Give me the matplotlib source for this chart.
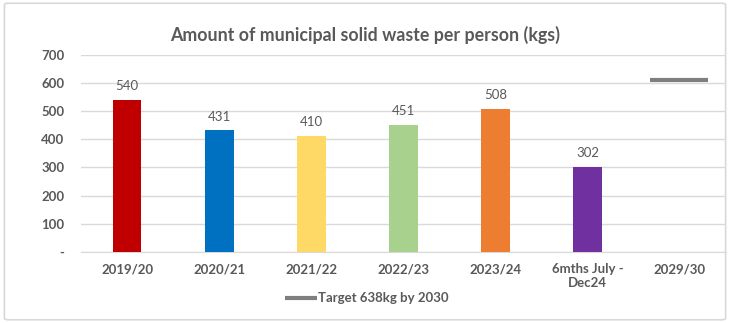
import matplotlib.pyplot as plt
from matplotlib.patches import FancyBboxPatch

categories = ['2019/20', '2020/21', '2021/22', '2022/23', '2023/24',
              '6mths July -\nDec24', '2029/30']
waste = [540, 431, 410, 451, 508, 302]
bar_colors = ['#C00000', '#0070C0', '#FFD966', '#A9D18E', '#ED7D31', '#7030A0']
target = 610
target_label = 'Target 638kg by 2030'
yticks = [0, 100, 200, 300, 400, 500, 600, 700]
ytick_labels = ['-', '100', '200', '300', '400', '500', '600', '700']

txt = '#595959'
plt.rcParams['font.family'] = ['Lato', 'DejaVu Sans']

fig = plt.figure(figsize=(7.3, 3.23), dpi=100)
ax = fig.add_axes([0.111, 0.22, 0.8835, 0.611])

x = list(range(len(waste)))
bars = ax.bar(x, waste, width=0.31, color=bar_colors, zorder=3)
for xi, v in zip(x, waste):
    ax.text(xi, v + 28, str(v), ha='center', va='bottom', fontsize=9.5, color=txt)

# target shown as a short dash on the last category
tx = len(categories) - 1
ax.hlines(target, tx - 0.33, tx + 0.3, colors='#7F7F7F', linewidth=3,
          label=target_label, zorder=3)

ax.set_xlim(-0.5, len(categories) - 0.5)
ax.set_ylim(0, 700)
ax.set_xticks(range(len(categories)))
ax.set_xticklabels(categories, fontsize=9.5, color=txt, fontweight='bold')
ax.set_yticks(yticks)
ax.set_yticklabels(ytick_labels, fontsize=9.5, color=txt, fontweight='bold')
ax.tick_params(length=0, pad=12, axis='y')
ax.tick_params(length=0, pad=8, axis='x')
ax.grid(axis='y', color='#D9D9D9', linewidth=1, zorder=0)
for s in ['top', 'right', 'left']:
    ax.spines[s].set_visible(False)
ax.spines['bottom'].set_color('#D9D9D9')

fig.suptitle('Amount of municipal solid waste per person (kgs)', x=0.5, y=0.92,
             fontsize=12.8, fontweight='bold', color=txt)

leg = fig.legend(loc='center', bbox_to_anchor=(0.503, 0.077), frameon=False,
                 fontsize=9.5, handlelength=2.4, handletextpad=0.1)
for t in leg.get_texts():
    t.set_color(txt)
    t.set_fontweight('bold')

border = FancyBboxPatch((0.006, 0.01), 0.988, 0.98, boxstyle='round,pad=0,rounding_size=0.005',
                        transform=fig.transFigure, facecolor='none',
                        edgecolor='#D9D9D9', linewidth=1.2)
fig.patches.append(border)

fig.savefig('out.png', dpi=100)
